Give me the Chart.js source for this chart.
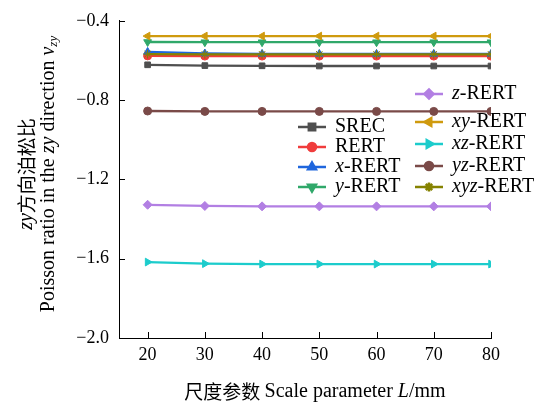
<!DOCTYPE html>
<html>
<head>
<meta charset="utf-8">
<script src="https://cdn.jsdelivr.net/npm/chart.js@4.4.1/dist/chart.umd.min.js"></script>
<style>
html, body { margin: 0; padding: 0; background: #fff; }
#wrap { width: 539px; height: 405px; }
</style>
</head>
<body>
<div id="wrap"><canvas id="chart"></canvas></div>
<script>
// scale parameter L (mm)
const scaleL = [20, 30, 40, 50, 60, 70, 80];
const yTicks = [-2.0, -1.6, -1.2, -0.8, -0.4];

// Poisson ratio in zy direction
const srec    = [-0.622, -0.626, -0.627, -0.628, -0.628, -0.628, -0.628];
const rert    = [-0.577, -0.578, -0.578, -0.578, -0.578, -0.578, -0.578];
const xRert   = [-0.557, -0.565, -0.567, -0.567, -0.567, -0.567, -0.567];
const yRert   = [-0.507, -0.508, -0.508, -0.508, -0.508, -0.508, -0.508];
const zRert   = [-1.328, -1.334, -1.336, -1.336, -1.336, -1.336, -1.336];
const xyRert  = [-0.477, -0.477, -0.477, -0.477, -0.477, -0.477, -0.477];
const xzRert  = [-1.617, -1.625, -1.627, -1.627, -1.627, -1.627, -1.627];
const yzRert  = [-0.855, -0.857, -0.857, -0.857, -0.857, -0.857, -0.857];
const xyzRert = [-0.568, -0.569, -0.569, -0.569, -0.569, -0.569, -0.569];

const serif = '"Liberation Serif", "Times New Roman", serif';
const cjk = '"Noto Sans CJK SC", sans-serif';

function series(label, data, color, style, rot, i) {
    return {
        label: label,
        data: data.map((v, k) => ({ x: scaleL[k], y: v })),
        borderColor: color,
        backgroundColor: color,
        borderWidth: 2.3,
        pointStyle: style,
        rotation: rot,
        pointRadius: style === 'circle' || style === 'rect' ? 4 : 4.5,
        pointBorderWidth: 1,
        pointBackgroundColor: color,
        pointBorderColor: color,
        order: 9 - i
    };
}

const datasets = [
    series('SREC', srec, '#4f4f4f', 'rect', 0, 0),
    series('RERT', rert, '#f03c3c', 'circle', 0, 1),
    series('x-RERT', xRert, '#1f66dd', 'triangle', 0, 2),
    series('y-RERT', yRert, '#30a86a', 'triangle', 180, 3),
    series('z-RERT', zRert, '#b27fe3', 'rectRot', 0, 4),
    series('xy-RERT', xyRert, '#cf9a0e', 'triangle', -90, 5),
    series('xz-RERT', xzRert, '#1ccccc', 'triangle', 90, 6),
    series('yz-RERT', yzRert, '#7a4a48', 'circle', 0, 7),
    series('xyz-RERT', xyzRert, '#858200', 'star', 0, 8)
];

// legend slots [x of sample line, y centre]
const legendPos = [
    [298, 127], [298, 147], [298, 167], [298, 187],
    [415, 94], [415, 122], [415, 144], [415, 166], [415, 187]
];

function drawRuns(ctx, runs, x, y) {
    let total = 0;
    runs.forEach(r => { ctx.font = r.font; total += ctx.measureText(r.t).width; });
    let cx = x - total / 2;
    runs.forEach(r => {
        ctx.font = r.font;
        ctx.fillText(r.t, cx, y + (r.dy || 0));
        cx += ctx.measureText(r.t).width;
    });
}

const deco = {
    id: 'deco',
    afterDraw(chart) {
        const ctx = chart.ctx;
        const xs = chart.scales.x, ys = chart.scales.y;
        const a = chart.chartArea;
        ctx.save();
        ctx.strokeStyle = '#000';
        ctx.lineWidth = 1;
        ctx.beginPath();
        scaleL.forEach(v => {
            const px = Math.round(xs.getPixelForValue(v)) + 0.5;
            ctx.moveTo(px, a.bottom);
            ctx.lineTo(px, a.bottom - 6);
        });
        yTicks.forEach(v => {
            const py = Math.round(ys.getPixelForValue(v)) + 0.5;
            ctx.moveTo(a.left, py);
            ctx.lineTo(a.left + 6, py);
        });
        ctx.stroke();

        ctx.fillStyle = '#000';
        ctx.textBaseline = 'middle';
        // x title
        drawRuns(ctx, [
            { t: '尺度参数 ', font: '19px ' + cjk },
            { t: 'Scale parameter ', font: '20px ' + serif },
            { t: 'L', font: 'italic 20px ' + serif },
            { t: '/mm', font: '20px ' + serif }
        ], 315, 392);
        // y title
        ctx.save();
        ctx.translate(27, 174);
        ctx.rotate(-Math.PI / 2);
        drawRuns(ctx, [
            { t: 'zy', font: 'italic 20px ' + serif },
            { t: '方向泊松比', font: '19px ' + cjk }
        ], 0, 0);
        ctx.restore();
        ctx.save();
        ctx.translate(49, 174);
        ctx.rotate(-Math.PI / 2);
        drawRuns(ctx, [
            { t: 'Poisson ratio in the ', font: '20px ' + serif },
            { t: 'zy', font: 'italic 20px ' + serif },
            { t: ' direction ', font: '20px ' + serif },
            { t: 'ν', font: 'italic 20px ' + serif },
            { t: 'zy', font: 'italic 13px ' + serif, dy: 5 }
        ], 0, 0);
        ctx.restore();

        // legend
        ctx.textAlign = 'left';
        datasets.forEach((ds, i) => {
            const [lx, ly] = legendPos[i];
            ctx.strokeStyle = ds.borderColor;
            ctx.lineWidth = 2.5;
            ctx.beginPath();
            ctx.moveTo(lx, ly);
            ctx.lineTo(lx + 28, ly);
            ctx.stroke();
            ctx.fillStyle = ds.borderColor;
            Chart.helpers.drawPoint(ctx, {
                pointStyle: ds.pointStyle, rotation: ds.rotation,
                radius: ds.pointStyle === 'circle' ? 4 : 4.5, borderWidth: 1
            }, lx + 14, ly);
            ctx.fillStyle = '#000';
            let tx = lx + 37;
            const dash = ds.label.indexOf('-');
            if (dash > 0) {
                ctx.font = 'italic 20px ' + serif;
                const p = ds.label.slice(0, dash);
                ctx.fillText(p, tx, ly);
                tx += ctx.measureText(p).width;
            }
            ctx.font = '20px ' + serif;
            ctx.fillText(ds.label.slice(dash > 0 ? dash : 0), tx, ly);
        });
        ctx.restore();
    }
};

new Chart(document.getElementById('chart'), {
    type: 'line',
    data: { datasets: datasets },
    options: {
        responsive: true,
        maintainAspectRatio: false,
        animation: false,
        layout: { padding: { left: 0, right: 48, top: 19, bottom: 0 } },
        plugins: { legend: { display: false }, tooltip: { enabled: false } },
        scales: {
            x: {
                type: 'linear',
                min: 15, max: 80,
                afterFit: s => { s.height = 67; },
                afterBuildTicks: s => { s.ticks = scaleL.map(v => ({ value: v })); },
                grid: { display: false, drawTicks: false },
                border: { display: true, color: '#000', width: 1 },
                ticks: { color: '#000', padding: 6, font: { family: serif, size: 18 } }
            },
            y: {
                min: -2.0, max: -0.4,
                afterFit: s => { s.width = 119; },
                afterBuildTicks: s => { s.ticks = yTicks.map(v => ({ value: v })); },
                grid: { display: false, drawTicks: false },
                border: { display: true, color: '#000', width: 1 },
                ticks: {
                    color: '#000', padding: 10, font: { family: serif, size: 18 },
                    callback: v => (v < 0 ? '\u2212' : '') + Math.abs(v).toFixed(1)
                }
            }
        }
    },
    plugins: [deco]
});
</script>
</body>
</html>
